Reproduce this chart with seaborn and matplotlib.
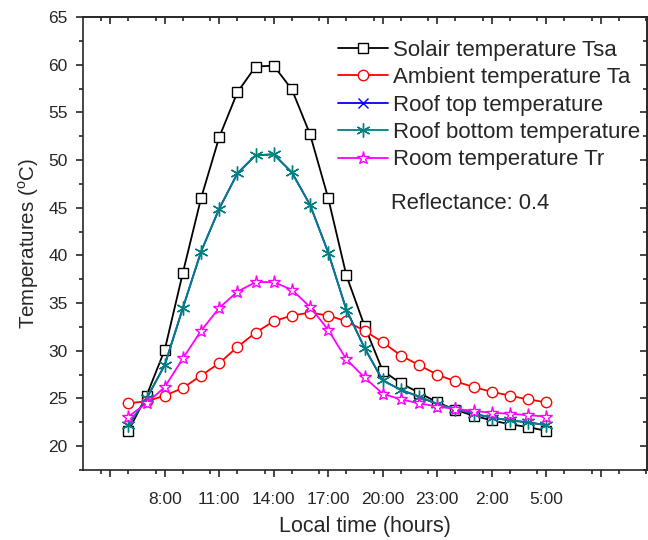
import numpy as np
import pandas as pd
import matplotlib
matplotlib.use("Agg")
import matplotlib.pyplot as plt
from matplotlib.ticker import MultipleLocator
from matplotlib.lines import Line2D
import seaborn as sns

# ---- data (hour of day, 6:00 -> 5:00 next day) ----
hours = list(range(6, 30))
solair = [21.6, 25.3, 30.1, 38.2, 46.0, 52.4, 57.1, 59.8, 59.9, 57.4, 52.7, 46.0,
          37.9, 32.6, 27.9, 26.6, 25.6, 24.6, 23.8, 23.2, 22.7, 22.3, 22.0, 21.6]
ambient = [24.5, 24.7, 25.3, 26.1, 27.4, 28.7, 30.4, 31.9, 33.1, 33.7, 34.0, 33.7,
           33.1, 32.1, 30.9, 29.5, 28.5, 27.5, 26.8, 26.2, 25.7, 25.3, 24.9, 24.6]
roof_top = [22.2, 25.0, 28.5, 34.5, 40.4, 44.9, 48.6, 50.5, 50.6, 48.7, 45.3, 40.3,
            34.3, 30.3, 26.9, 25.9, 25.2, 24.4, 23.9, 23.4, 23.0, 22.7, 22.5, 22.2]
roof_bottom = [22.2, 25.0, 28.5, 34.5, 40.4, 44.9, 48.6, 50.5, 50.6, 48.7, 45.3, 40.3,
               34.3, 30.3, 26.9, 25.9, 25.2, 24.4, 23.9, 23.4, 23.0, 22.7, 22.5, 22.2]
room = [23.1, 24.5, 26.2, 29.2, 32.1, 34.5, 36.2, 37.2, 37.2, 36.4, 34.6, 32.2,
        29.1, 27.2, 25.5, 24.9, 24.5, 24.15, 23.9, 23.7, 23.5, 23.4, 23.25, 23.1]

series_names = ["Solair temperature Tsa", "Ambient temperature Ta",
                "Roof top temperature", "Roof bottom temperature",
                "Room temperature Tr"]
series_values = [solair, ambient, roof_top, roof_bottom, room]

xtick_pos = [5, 8, 11, 14, 17, 20, 23, 26, 29, 32]
xtick_labels = ["", "8:00", "11:00", "14:00", "17:00", "20:00", "23:00", "2:00", "5:00", ""]
ytick_pos = [20, 25, 30, 35, 40, 45, 50, 55, 60, 65]

# ---- styles ----
colors = ["#000000", "#FF0000", "#0000FF", "#008080", "#FF00FF"]
markers = ["s", "o", "x", (6, 2, 0), "*"]
msizes = [6.8, 7.5, 7, 10, 9.5]
mfcs = ["white", "white", "none", "none", "white"]
show_markers = [True, True, False, True, True]  # roof-top markers hidden under roof-bottom

sns.set_style("ticks")
plt.rcParams["font.family"] = ["Liberation Sans", "DejaVu Sans"]
plt.rcParams["mathtext.fontset"] = "custom"
plt.rcParams["mathtext.rm"] = "Liberation Sans"

fig = plt.figure(figsize=(6.48, 5.40), dpi=100)
ax = fig.add_axes([83 / 648, 1 - 470 / 540, 564 / 648, 453 / 540])

handles = []
for name, vals, c, m, ms, fc, show in zip(series_names, series_values, colors,
                                           markers, msizes, mfcs, show_markers):
    df = pd.DataFrame({"hour": hours, "temp": vals})
    sns.lineplot(data=df, x="hour", y="temp", ax=ax, color=c,
                 marker=(m if show else None),
                 markersize=ms, markerfacecolor=fc, markeredgecolor=c,
                 markeredgewidth=1.0, linewidth=1.3)
    handles.append(Line2D([], [], color=c, marker=m, markersize=ms,
                          markerfacecolor=fc, markeredgecolor=c,
                          markeredgewidth=1.0, linewidth=1.3))

ax.set_xlim(3.5, 34.55)
ax.set_ylim(17.5, 65)

ax.set_xticks(xtick_pos)
ax.set_xticklabels(xtick_labels)
ax.xaxis.set_minor_locator(MultipleLocator(1.5))
ax.set_yticks(ytick_pos)
ax.yaxis.set_minor_locator(MultipleLocator(2.5))

ax.tick_params(axis="both", which="major", direction="out", length=5, width=1.2,
               labelsize=12.5)
ax.tick_params(axis="both", which="minor", direction="out", length=3, width=1.2)
ax.tick_params(axis="x", which="major", pad=11)
ax.tick_params(axis="y", which="major", pad=6)

# top / right axes with inward ticks
secx = ax.secondary_xaxis("top")
secx.set_xticks(xtick_pos)
secx.xaxis.set_minor_locator(MultipleLocator(1.5))
secx.tick_params(axis="x", which="major", direction="in", length=5, width=1.2, labeltop=False)
secx.tick_params(axis="x", which="minor", direction="in", length=3, width=1.2)
secy = ax.secondary_yaxis("right")
secy.set_yticks(ytick_pos)
secy.yaxis.set_minor_locator(MultipleLocator(2.5))
secy.tick_params(axis="y", which="major", direction="in", length=5, width=1.2, labelright=False)
secy.tick_params(axis="y", which="minor", direction="in", length=3, width=1.2)
for s in list(ax.spines.values()) + list(secx.spines.values()) + list(secy.spines.values()):
    s.set_linewidth(1.2)

ax.set_xlabel("Local time (hours)", fontsize=15.5, labelpad=6)
ax.set_ylabel("Temperatures ($^{\\mathrm{o}}$C)", fontsize=14.8, labelpad=5)

leg = ax.legend(handles, series_names, loc="upper left", bbox_to_anchor=(0.452, 0.950),
                frameon=False, fontsize=16, handlelength=2.25, handletextpad=0.22,
                labelspacing=0.29, borderpad=0, borderaxespad=0, numpoints=1)

ax.text(0.546, 0.589, "Reflectance: 0.4", transform=ax.transAxes,
        fontsize=15.8, va="center", ha="left")

fig.savefig("out.png", dpi=100)
